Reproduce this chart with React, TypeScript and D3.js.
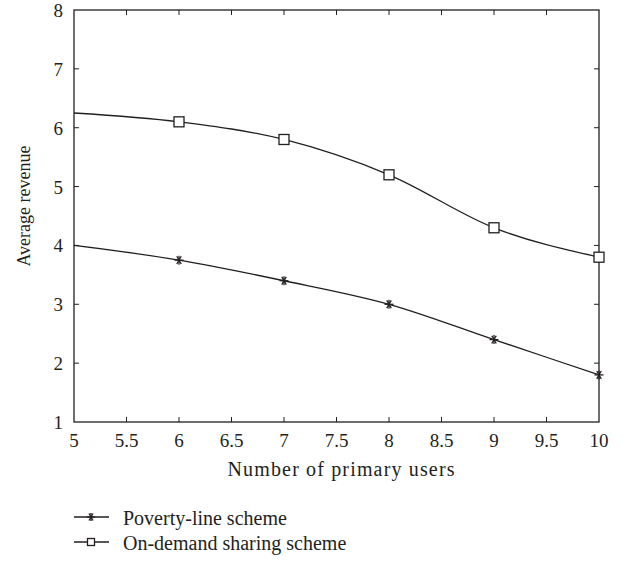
import React, { useEffect, useRef } from "react";
import * as d3 from "d3";

const users = [5, 6, 7, 8, 9, 10];
const povertyLine = [4.0, 3.75, 3.4, 3.0, 2.4, 1.8];
const onDemand = [6.25, 6.1, 5.8, 5.2, 4.3, 3.8];
const xTicks = [5, 5.5, 6, 6.5, 7, 7.5, 8, 8.5, 9, 9.5, 10];
const yTicks = [1, 2, 3, 4, 5, 6, 7, 8];
const seriesNames = ["Poverty-line scheme", "On-demand sharing scheme"];

const App = () => {
  const ref = useRef<SVGSVGElement | null>(null);

  useEffect(() => {
    draw();
  });

  const draw = () => {
    const svg = d3.select(ref.current);
    svg.selectAll("*").remove();

    const margin = { top: 10, left: 74 };
    const width = 525;
    const height = 412;
    const font = "'Liberation Serif', 'DejaVu Serif', serif";
    const ink = "#231f20";

    const x = d3.scaleLinear().domain([5, 10]).range([0, width]);
    const y = d3.scaleLinear().domain([1, 8]).range([height, 0]);

    const g = svg
      .append("g")
      .attr("transform", "translate(" + margin.left + "," + margin.top + ")");

    // frame
    g.append("rect")
      .attr("width", width)
      .attr("height", height)
      .attr("fill", "none")
      .attr("stroke", ink)
      .attr("stroke-width", 1.3);

    // inward ticks on all four sides
    const tl = 5;
    xTicks.slice(1, -1).forEach((t) => {
      g.append("line").attr("x1", x(t)).attr("x2", x(t)).attr("y1", height).attr("y2", height - tl).attr("stroke", ink);
      g.append("line").attr("x1", x(t)).attr("x2", x(t)).attr("y1", 0).attr("y2", tl).attr("stroke", ink);
    });
    yTicks.slice(1, -1).forEach((t) => {
      g.append("line").attr("x1", 0).attr("x2", tl).attr("y1", y(t)).attr("y2", y(t)).attr("stroke", ink);
      g.append("line").attr("x1", width).attr("x2", width - tl).attr("y1", y(t)).attr("y2", y(t)).attr("stroke", ink);
    });

    g.selectAll(".xl")
      .data(xTicks)
      .enter()
      .append("text")
      .attr("x", (d) => x(d))
      .attr("y", height + 25)
      .attr("text-anchor", "middle")
      .attr("font-family", font)
      .attr("font-size", 19)
      .attr("fill", ink)
      .text((d) => String(d));

    g.selectAll(".yl")
      .data(yTicks)
      .enter()
      .append("text")
      .attr("x", -11)
      .attr("y", (d) => y(d) + 7)
      .attr("text-anchor", "end")
      .attr("font-family", font)
      .attr("font-size", 19)
      .attr("fill", ink)
      .text((d) => String(d));

    g.append("text")
      .attr("x", 267)
      .attr("y", height + 54)
      .attr("text-anchor", "middle")
      .attr("font-family", font)
      .attr("font-size", 20)
      .attr("textLength", 227)
      .attr("lengthAdjust", "spacing")
      .attr("fill", ink)
      .text("Number of primary users");

    g.append("text")
      .attr("transform", "translate(" + -44 + "," + 196 + ") rotate(-90)")
      .attr("text-anchor", "middle")
      .attr("font-family", font)
      .attr("font-size", 18)
      .attr("fill", ink)
      .text("Average revenue");

    const line = d3
      .line<number>()
      .x((d, i) => x(users[i]))
      .y((d) => y(d))
      .curve(d3.curveMonotoneX);

    const star = (sel: any, cx: number, cy: number, r: number) => {
      [0, 60, 120].forEach((a) => {
        const rad = (a * Math.PI) / 180;
        sel.append("line")
          .attr("x1", cx - r * Math.cos(rad))
          .attr("y1", cy - r * Math.sin(rad))
          .attr("x2", cx + r * Math.cos(rad))
          .attr("y2", cy + r * Math.sin(rad))
          .attr("stroke", ink)
          .attr("stroke-width", 1.3);
      });
      sel.append("line")
        .attr("x1", cx).attr("x2", cx)
        .attr("y1", cy - r).attr("y2", cy + r)
        .attr("stroke", ink).attr("stroke-width", 1.3);
    };
    const square = (sel: any, cx: number, cy: number, h: number) => {
      sel.append("rect")
        .attr("x", cx - h)
        .attr("y", cy - h)
        .attr("width", 2 * h)
        .attr("height", 2 * h)
        .attr("fill", "#fff")
        .attr("stroke", ink)
        .attr("stroke-width", 1.3);
    };

    [povertyLine, onDemand].forEach((vals, s) => {
      g.append("path")
        .attr("d", line(vals))
        .attr("fill", "none")
        .attr("stroke", ink)
        .attr("stroke-width", 1.3);
      vals.forEach((v, i) => {
        if (i === 0) return;
        if (s === 0) star(g, x(users[i]), y(v), 4.5);
        else square(g, x(users[i]), y(v), 5);
      });
    });

    // legend
    const lg = svg.append("g");
    seriesNames.forEach((name, i) => {
      const ly = 517 + i * 25;
      lg.append("line")
        .attr("x1", 74).attr("x2", 109)
        .attr("y1", ly).attr("y2", ly)
        .attr("stroke", ink).attr("stroke-width", 1.3);
      if (i === 0) star(lg, 91, ly, 4);
      else square(lg, 91, ly, 3.5);
      lg.append("text")
        .attr("x", 123)
        .attr("y", ly + 8)
        .attr("font-family", font)
        .attr("font-size", 20)
        .attr("fill", ink)
        .text(name);
    });
  };

  return (
    <svg
      ref={ref}
      width={627}
      height={563}
      style={{ position: "absolute", left: 0, top: 0, background: "#fff" }}
    />
  );
};

export default App;
